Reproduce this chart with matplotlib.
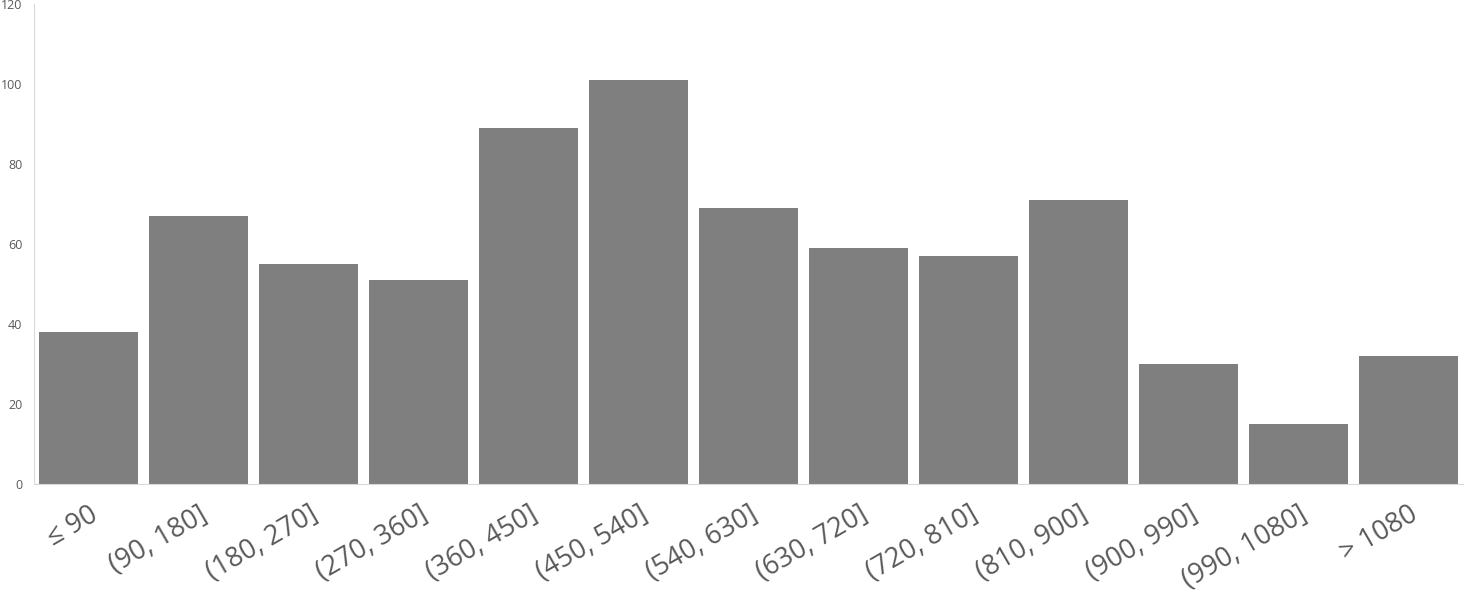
import matplotlib
matplotlib.use("Agg")
import matplotlib.pyplot as plt

categories = ["≤ 90", "(90, 180]", "(180, 270]", "(270, 360]", "(360, 450]", "(450, 540]",
              "(540, 630]", "(630, 720]", "(720, 810]", "(810, 900]", "(900, 990]",
              "(990, 1080]", "> 1080"]
values = [38, 67, 55, 51, 89, 101, 69, 59, 57, 71, 30, 15, 32]
yticks = [0, 20, 40, 60, 80, 100, 120]

plt.rcParams['font.family'] = ['Open Sans', 'DejaVu Sans']
fig = plt.figure(figsize=(14.64, 5.94), dpi=100)
ax = fig.add_axes([33.5/1464, 110/594, 1430/1464, 480/594])
x = list(range(len(categories)))
ax.bar(x, values, width=0.9, color="#7f7f7f")
ax.set_xlim(-0.5, len(categories) - 0.5)
ax.set_ylim(0, 120)
ax.set_yticks(yticks)
ax.set_yticklabels([str(v) for v in yticks], fontsize=9, color="#595959")
ax.set_xticks(x)
ax.set_xticklabels(categories, rotation=30, ha="right", rotation_mode="anchor",
                   fontsize=19.5, color="#595959")
ax.tick_params(axis="both", length=0)
ax.tick_params(axis="y", pad=8)
ax.tick_params(axis="x", pad=12)
for s in ["top", "right"]:
    ax.spines[s].set_visible(False)
ax.spines["left"].set_color("#d9d9d9")
ax.spines["bottom"].set_color("#d9d9d9")
fig.savefig("out.png", dpi=100)
